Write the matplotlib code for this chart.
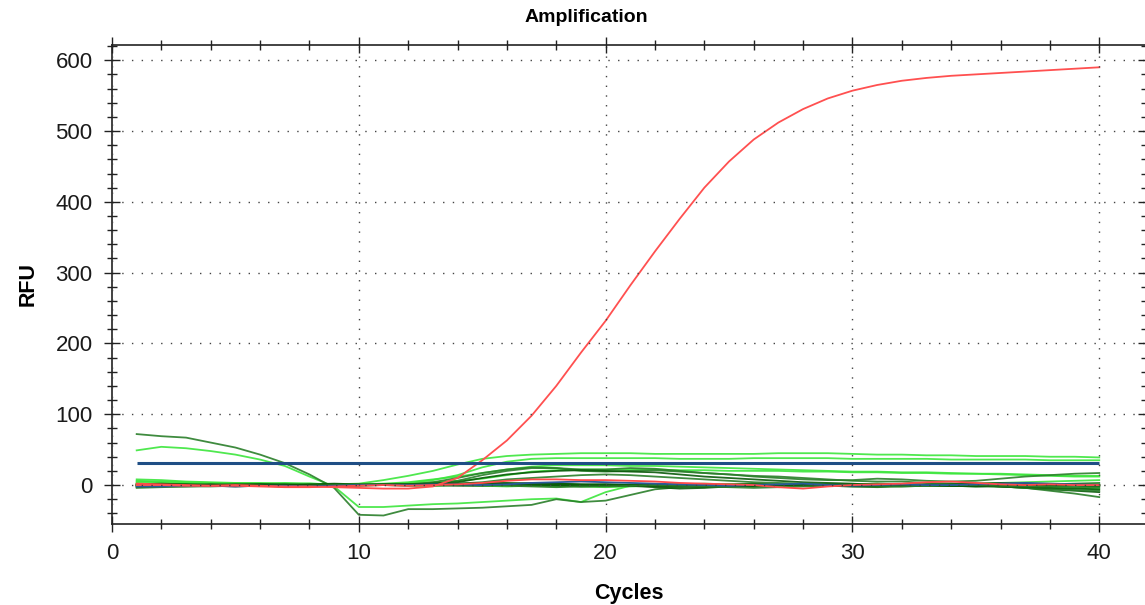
import matplotlib
matplotlib.use("Agg")
import matplotlib.pyplot as plt
from matplotlib.ticker import MultipleLocator

plt.rcParams['font.family'] = ['Liberation Sans', 'DejaVu Sans']

cycles = list(range(1, 41))

red_amp = [0, 0, -1, -1, 0, -1, -2, -2, -3, -4, -5, -5, -2, 10, 35, 63, 98, 140, 187, 232,
           282, 330, 376, 420, 457, 488, 512, 531, 546, 557, 565, 571, 575, 578, 580, 582, 584, 586, 588, 590]
threshold = 31

dark_drop = [72, 69, 67, 60, 53, 43, 31, 15, -4, -42, -43, -34, -34, -33, -32, -30, -28, -20, -24, -22,
             -14, -6, -3, -1, 0, 1, 0, -1, 0, 1, 2, 1, 0, -1, -2, -1, 0, 1, 0, -1]
bright_drop = [49, 54, 52, 48, 43, 36, 27, 12, -2, -31, -31, -29, -27, -26, -24, -22, -20, -19, -24, -10,
               -1, 0, 1, 0, -1, 0, 1, 0, -1, 0, 0, 1, 0, -1, 0, 1, 0, -1, 0, 1]
bright_top = [1, 1, 0, 1, 0, 1, 0, 1, 1, 2, 7, 13, 20, 29, 37, 41, 43, 44, 45, 45,
              45, 44, 44, 44, 44, 44, 45, 45, 45, 44, 43, 43, 42, 42, 41, 41, 41, 40, 40, 39]
bright_second = [2, 2, 1, 1, 0, 0, 1, 0, 0, 1, 1, 3, 7, 14, 25, 33, 37, 38, 38, 38,
                 38, 38, 37, 37, 37, 38, 38, 38, 38, 37, 37, 37, 37, 36, 36, 36, 36, 35, 35, 35]
bright_mid = [3, 2, 2, 1, 1, 1, 0, 1, 0, 1, 2, 4, 8, 12, 17, 22, 26, 28, 28, 28,
              27, 27, 26, 25, 24, 23, 22, 21, 20, 19, 19, 18, 18, 17, 16, 16, 15, 14, 13, 13]
bright_mid2 = [5, 4, 3, 2, 2, 1, 1, 0, 0, 0, 1, 2, 4, 6, 9, 14, 19, 21, 22, 22,
               22, 22, 21, 21, 20, 20, 20, 19, 19, 18, 18, 17, 17, 16, 16, 15, 14, 13, 12, 12]
dark_r1 = [0, -1, 0, 0, 1, 0, 0, -1, 0, 1, 1, 1, 4, 10, 17, 22, 25, 24, 22, 22,
           24, 23, 20, 17, 15, 13, 12, 10, 8, 6, 5, 5, 3, 2, 0, -2, -4, -8, -12, -17]
dark_r2 = [1, 0, 0, 1, 0, -1, 0, 0, 1, 0, 0, 1, 2, 6, 14, 20, 24, 24, 20, 19,
           20, 21, 19, 17, 15, 12, 10, 8, 7, 7, 9, 8, 6, 5, 6, 9, 12, 14, 16, 17]
dark_r3 = [-1, 0, 1, 0, 0, 1, 0, 0, -1, 0, 1, 1, 2, 4, 10, 15, 18, 20, 21, 20,
           19, 18, 15, 12, 10, 8, 6, 4, 3, 2, 0, 1, 0, -1, 0, -2, -4, -6, -8, -10]
dark_r4 = [0, 1, 0, 0, -1, 0, 1, 0, 0, 0, 0, 1, 1, 2, 4, 8, 10, 12, 14, 15,
           14, 12, 10, 8, 6, 4, 3, 2, 1, 0, 0, 1, 0, -1, 0, 1, 0, 1, 2, 3]
base_b1 = [8, 7, 5, 4, 3, 3, 2, 2, 1, 1, 1, 0, 0, 1, 0, -1, 0, 1, 0, -1,
           0, 0, 1, 2, 1, 0, -1, 0, 1, 0, 0, -1, 0, 1, 0, -1, 0, 0, 1, 0]
base_b2 = [6, 5, 4, 3, 3, 2, 3, 2, 1, 0, 0, 1, 0, 0, -1, -2, -1, 0, -2, -3,
           -2, -1, 0, 0, -1, -2, -1, 0, 0, -1, -2, -1, 0, 0, -1, -2, -3, -3, -4, -5]
base_b3 = [-1, 0, 1, 2, 1, 0, 1, 2, 1, 0, 1, 0, -1, 0, 1, 0, -1, -2, -1, 0,
           1, 0, -1, 0, 1, 1, 0, -1, 0, 1, 2, 1, 0, 1, 2, 3, 4, 5, 6, 7]
base_d1 = [-2, -1, -1, 0, -1, 0, 0, 1, 0, 0, 0, 1, 1, 2, 1, 2, 3, 2, 1, 0,
           -1, -2, -1, 0, 1, 2, 1, 0, -1, -2, -3, -2, -1, 0, -1, -2, -4, -6, -7, -8]
base_d2 = [0, 1, 0, 1, 0, 1, 1, 0, 0, 0, 0, 0, 1, 0, 0, 1, 1, 0, 0, 1,
           0, 0, 1, 0, 0, 1, 0, 0, 1, 0, 0, 1, 1, 0, 0, 1, 0, 0, 1, 0]
base_d3 = [-3, -2, -2, -1, -2, -1, -1, 0, -1, 0, 1, 1, 2, 2, 3, 3, 2, 2, 1, 1,
           0, -1, -2, -3, -2, -1, 0, 0, -1, -2, -2, -1, 0, 1, 2, 3, 2, 1, 0, -1]
base_d4 = [-1, -1, 0, 0, 1, 1, 0, 0, -1, -1, 0, 0, 0, -1, -1, 0, 1, 1, 0, 0,
           -1, -3, -5, -4, -2, -1, 0, 0, -1, -1, 0, 0, -1, -1, -2, -2, -3, -4, -5, -6]
base_d5 = [1, 2, 1, 0, 0, -1, 0, 1, 2, 1, 0, -1, 0, 1, 2, 1, 0, -1, -2, -1,
           0, 1, 0, -1, -2, -1, 0, 1, 0, -1, 0, 1, 0, -1, -1, 0, 0, -1, -1, -2]
base_d6 = [-4, -3, -2, -2, -1, -1, -2, -1, 0, 1, 0, 0, -1, 0, 0, -1, -2, -3, -2, -2,
           -1, 0, -1, -2, -3, -4, -3, -2, -1, 0, -1, -2, -1, 0, 0, -1, -2, -2, -3, -3]
base_blue = [-2, -2, -1, -1, -2, -1, -1, -2, -1, 0, 0, 0, 1, 1, 0, 1, 3, 4, 5, 4,
             3, 2, 1, 0, -1, 0, 1, 2, 0, -1, 0, 1, 0, 0, 1, 2, 3, 2, 1, 0]
base_red = [2, 1, 0, -1, -1, -2, -3, -3, -2, -1, 0, -1, 0, 1, 3, 6, 8, 8, 7, 7,
            6, 5, 3, 2, 1, 0, -3, -5, -2, 0, 1, 2, 4, 5, 3, 1, 0, 1, 0, 0]

BRIGHT = '#3ce63c'
DARK = '#2a7f2a'
VDARK = '#0a5a0a'

fig = plt.figure(figsize=(11.45, 6.05), dpi=100)
ax = fig.add_axes([112 / 1145, 1 - 524 / 605, 1 - 112 / 1145 + 0.001, (524 - 45) / 605])

lw = 1.3
curves = [
    (bright_top, BRIGHT), (bright_second, BRIGHT), (bright_mid, BRIGHT), (bright_mid2, BRIGHT),
    (bright_drop, BRIGHT), (base_b1, BRIGHT), (base_b2, BRIGHT), (base_b3, BRIGHT),
    (dark_drop, DARK), (dark_r1, DARK), (dark_r2, DARK), (dark_r3, VDARK), (dark_r4, DARK),
    (base_d1, DARK), (base_d2, VDARK), (base_d3, VDARK), (base_d4, VDARK), (base_d5, VDARK), (base_d6, DARK),
]
for vals, col in curves:
    ax.plot(cycles, vals, color=col, lw=lw, alpha=0.9)
ax.plot(cycles, base_blue, color='#2a5a9a', lw=lw)
ax.plot(cycles, base_red, color='#ff4a4a', lw=lw)
ax.plot(cycles, red_amp, color='#ff5050', lw=1.3)
ax.plot([cycles[0], cycles[-1]], [threshold, threshold], color='#1f4e85', lw=2.2,
        solid_capstyle='butt')

ax.set_xlim(0, 41.9)
ax.set_ylim(-55, 621.5)
ax.xaxis.set_major_locator(MultipleLocator(10))
ax.xaxis.set_minor_locator(MultipleLocator(2))
ax.yaxis.set_major_locator(MultipleLocator(100))
ax.yaxis.set_minor_locator(MultipleLocator(20))

ax.grid(True, which='major', color='#444444', lw=1.0, linestyle=(0, (1, 6)))
ax.set_axisbelow(False)

ax.tick_params(which='both', top=True, right=True, direction='inout', color='#222222', width=1.0,
               labelsize=16, labelcolor='#1a1a1a')
ax.tick_params(which='major', length=12, pad=8)
ax.tick_params(which='minor', length=7)
for s in ax.spines.values():
    s.set_color('#222222')
    s.set_linewidth(1.2)

fig.text(586.5 / 1145, 1 - 18 / 605, 'Amplification', fontsize=14, fontweight='bold',
         ha='center', va='center')
ax.set_xlabel('Cycles', fontsize=15.5, fontweight='bold', labelpad=13)
ax.set_ylabel('RFU', fontsize=15.5, fontweight='bold', labelpad=12)

fig.savefig('out.png', dpi=100)
